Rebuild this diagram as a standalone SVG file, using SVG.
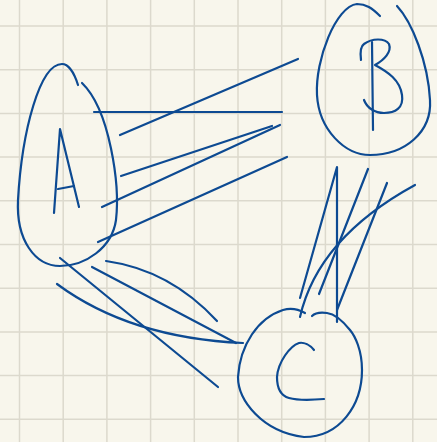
<svg xmlns="http://www.w3.org/2000/svg" width="437" height="442" viewBox="0 0 437 442">
<style>
.grid line{stroke:#dcd9cd;stroke-width:1.5}
.ink{fill:none;stroke:#0d4a92;stroke-width:2.2;stroke-linecap:round;stroke-linejoin:round}
</style>
<rect width="437" height="442" fill="#f8f6ec"/>
<g class="grid">
<line x1="19.5" y1="0" x2="19.5" y2="442"/><line x1="63.2" y1="0" x2="63.2" y2="442"/><line x1="106.9" y1="0" x2="106.9" y2="442"/><line x1="150.6" y1="0" x2="150.6" y2="442"/><line x1="194.3" y1="0" x2="194.3" y2="442"/><line x1="238" y1="0" x2="238" y2="442"/><line x1="281.7" y1="0" x2="281.7" y2="442"/><line x1="325.4" y1="0" x2="325.4" y2="442"/><line x1="369.1" y1="0" x2="369.1" y2="442"/><line x1="412.8" y1="0" x2="412.8" y2="442"/>
<line x1="0" y1="26" x2="437" y2="26"/><line x1="0" y1="69.7" x2="437" y2="69.7"/><line x1="0" y1="113.4" x2="437" y2="113.4"/><line x1="0" y1="157.1" x2="437" y2="157.1"/><line x1="0" y1="200.8" x2="437" y2="200.8"/><line x1="0" y1="244.5" x2="437" y2="244.5"/><line x1="0" y1="288.2" x2="437" y2="288.2"/><line x1="0" y1="331.9" x2="437" y2="331.9"/><line x1="0" y1="375.6" x2="437" y2="375.6"/><line x1="0" y1="419.3" x2="437" y2="419.3"/>
</g>
<g id="A" class="ink">
<path d="M78,85 C74,72 68,64 62,64 C40,64 22,130 18,200 C16,240 35,266 60,266 C85,266 112,248 116,220 C120,185 110,110 82,83"/>
<path d="M54,213 L60,129 L79,207"/>
<path d="M58,189 L74,186"/>
</g>
<g id="B" class="ink">
<path d="M380,16 C372,8 366,4 357,4 C336,6 315,60 317,95 C319,130 345,155 370,155 C405,155 432,132 430,100 C428,62 412,22 397,6"/>
<path d="M361,60 C360,52 361,46 364,44 C372,38 385,38 389,44 C392,52 384,60 375,65 C388,72 400,80 402,95 C404,108 395,113 384,113 C375,113 367,108 364,100"/>
<path d="M372,42 L373,130"/>
</g>
<g id="C" class="ink">
<path d="M305,313 C298,309 290,308 283,310 C258,318 240,345 238,377 C238,400 262,432 304,437 C340,437 362,405 362,370 C362,350 355,336 350,330 C342,320 335,314 327,313 C320,312 315,313 312,316"/>
<path d="M314,350 C310,345 304,342 299,343 C290,346 278,362 277,377 C277,390 282,396 289,398 C300,401 312,400 324,399"/>
</g>
<g id="connectors" class="ink">
<path d="M94,112 L282,112"/>
<path d="M120,135 L298,59"/>
<path d="M121,176 L272,126"/>
<path d="M102,207 L280,125"/>
<path d="M98,242 L287,157"/>
<path d="M60,258 L218,387"/>
<path d="M57,284 Q130,338 243,343"/>
<path d="M92,267 L236,343"/>
<path d="M106,261 Q170,270 217,321"/>
<path d="M300,298 L337,167 L337,322"/>
<path d="M368,169 L319,294"/>
<path d="M387,183 L337,310"/>
<path d="M415,185 Q318,238 300,317"/>
</g>
</svg>
